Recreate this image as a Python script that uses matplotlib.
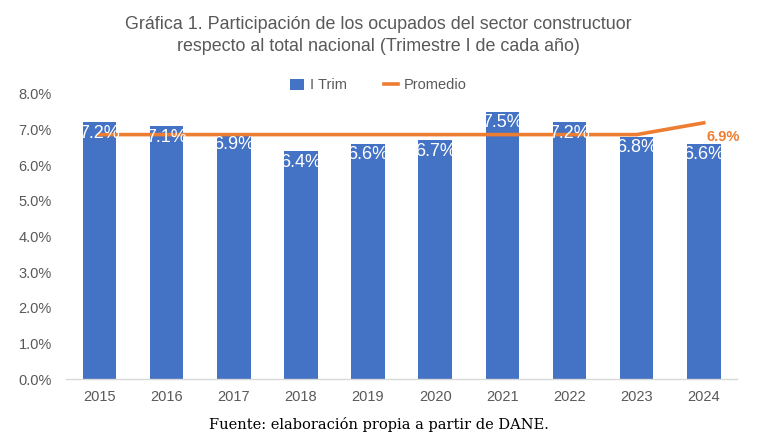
import matplotlib.pyplot as plt
from matplotlib.lines import Line2D
from matplotlib.patches import Patch

# data
years = ["2015", "2016", "2017", "2018", "2019", "2020", "2021", "2022", "2023", "2024"]
i_trim = [7.2, 7.1, 6.9, 6.4, 6.6, 6.7, 7.5, 7.2, 6.8, 6.6]
promedio = [6.86, 6.86, 6.86, 6.86, 6.86, 6.86, 6.86, 6.86, 6.86, 7.19]
promedio_label = "6.9%"

blue = "#4472C4"
orange = "#ED7D31"
gray = "#595959"

plt.rcParams['font.family'] = ['Liberation Sans', 'DejaVu Sans']

fig = plt.figure(figsize=(7.57, 4.40), dpi=100)
ax = fig.add_axes([0.087, 0.1386, 0.887, 0.6478])

x = range(len(years))
bars = ax.bar(x, i_trim, width=0.5, color=blue, zorder=2)
ax.plot(x, promedio, color=orange, linewidth=2.6, zorder=3)

# white value labels near the top of each bar
for xi, v in zip(x, i_trim):
    ax.annotate("%.1f%%" % v, (xi, v), xytext=(0, -8), textcoords="offset points",
                ha="center", va="center", color="white", fontsize=13, zorder=4)

# orange label for the last point of the average line
ax.annotate(promedio_label, (x[-1], promedio[-1]), xytext=(14, -10),
            textcoords="offset points", ha="center", va="center",
            color=orange, fontsize=10.5, fontweight="bold", zorder=4)

ax.set_xlim(-0.5, len(years) - 0.5)
ax.set_ylim(0, 8)
ax.set_yticks([0, 1, 2, 3, 4, 5, 6, 7, 8])
ax.set_yticklabels(["%.1f%%" % t for t in range(9)])
ax.set_xticks(list(x))
ax.set_xticklabels(years)
ax.tick_params(axis="both", length=0, colors=gray, labelsize=10.5)
ax.tick_params(axis="x", pad=8)
ax.tick_params(axis="y", pad=10)

for s in ["top", "right", "left"]:
    ax.spines[s].set_visible(False)
ax.spines["bottom"].set_color("#D9D9D9")
ax.spines["bottom"].set_linewidth(1)

fig.text(0.5, 0.945, "Gráfica 1. Participación de los ocupados del sector constructuor",
         ha="center", va="center", color=gray, fontsize=12.9)
fig.text(0.5, 0.895, "respecto al total nacional (Trimestre I de cada año)",
         ha="center", va="center", color=gray, fontsize=12.9)

handles = [Patch(facecolor=blue, label="I Trim"),
           Line2D([0], [0], color=orange, linewidth=2.6, label="Promedio")]
fig.legend(handles=handles, loc="center", bbox_to_anchor=(0.5, 0.806), ncol=2,
           frameon=False, fontsize=10.5, labelcolor=gray, handlelength=1.0,
           handleheight=0.8, columnspacing=2.5, handletextpad=0.4)

fig.text(0.5, 0.035, "Fuente: elaboración propia a partir de DANE.",
         ha="center", va="center", color="black", fontsize=10.5,
         family=["DejaVu Serif", "Liberation Serif"])

fig.savefig("out.png", dpi=100)
